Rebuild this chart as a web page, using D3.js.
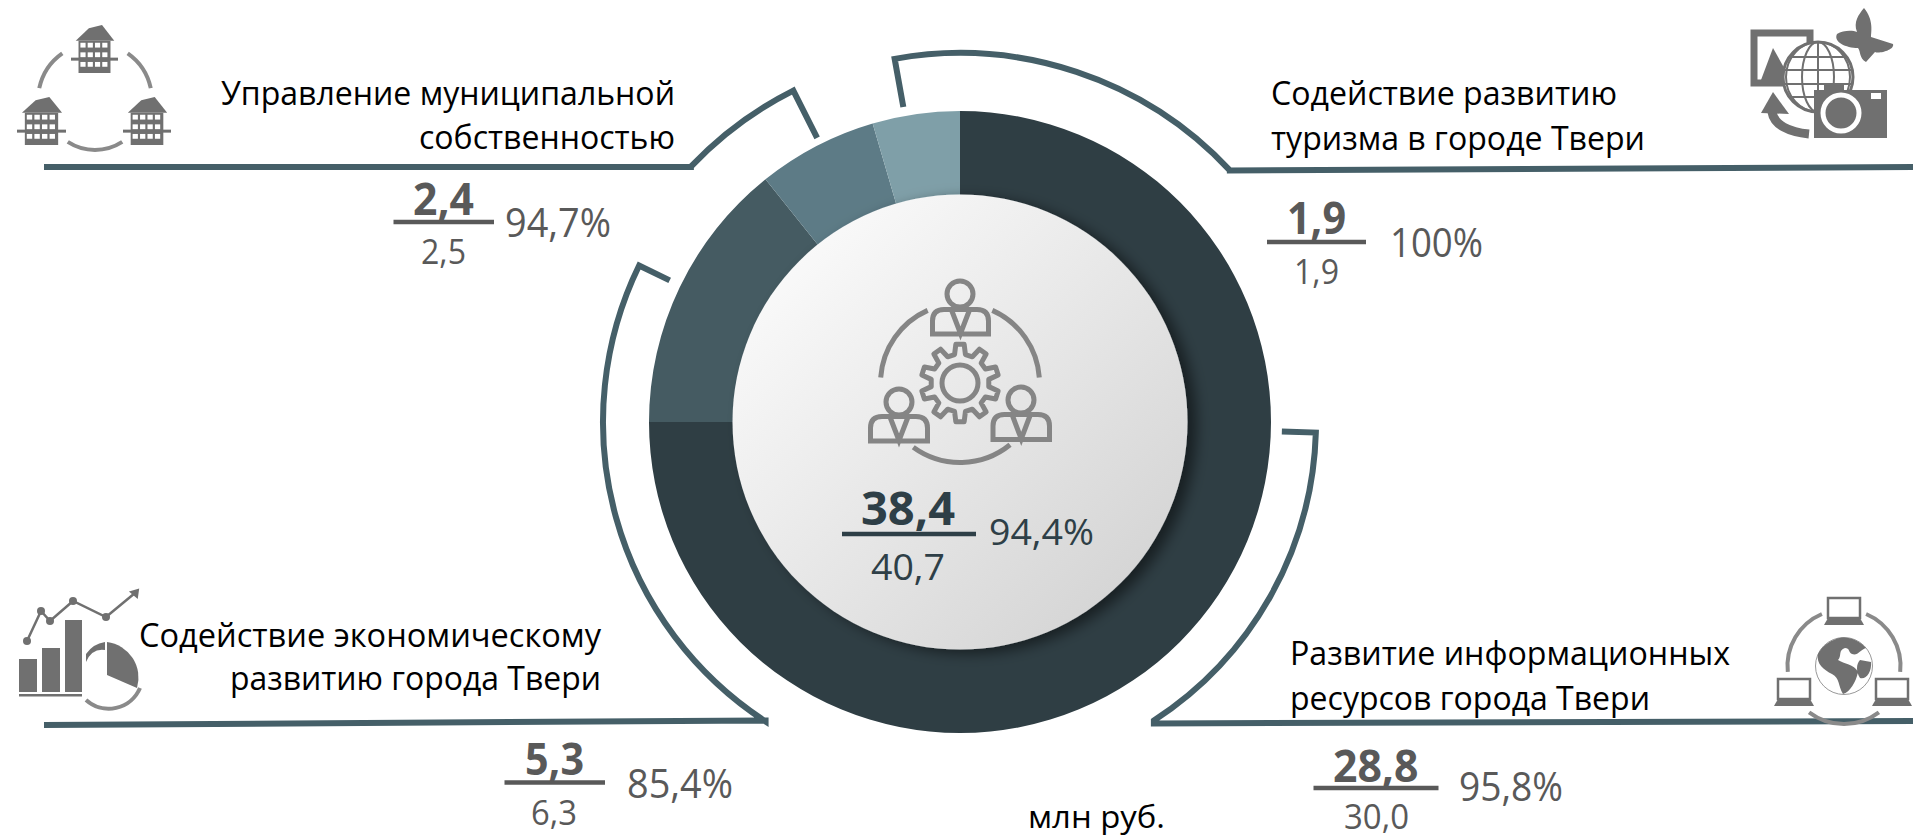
<!DOCTYPE html>
<html><head><meta charset="utf-8">
<script src="https://cdnjs.cloudflare.com/ajax/libs/d3/7.8.5/d3.min.js"></script>
<style>html,body{margin:0;padding:0;background:#fff;overflow:hidden}svg{display:block}text{font-family:"Open Sans",sans-serif}</style>
</head><body><svg id="c" width="1913" height="837"></svg>
<script>
const categories=["Развитие информационных ресурсов города Твери","Содействие экономическому развитию города Твери","Управление муниципальной собственностью","Содействие развитию туризма в городе Твери"];
const actual=[28.8,5.3,2.4,1.9];
const planned=[30.0,6.3,2.5,1.9];
const percents=["95,8%","85,4%","94,7%","100%"];
const sliceValues=[28.8,5.47,2.39,1.74]; // ring shares
const totalActual=38.4, totalPlanned=40.7, totalPercent="94,4%";
const unitLabel="млн руб.";
const sliceColors=["#2f3e44","#455b62","#5d7b86","#7f9fa8"];

const svg=d3.select("#c");
const cx=960,cy=422,R=311,r0=227.5;
const rad=d=>d*Math.PI/180, fmt=v=>v.toFixed(1).replace(".",",");
const defs=svg.append("defs");
const g=defs.append("linearGradient").attr("id","disc").attr("x1","10%").attr("y1","10%").attr("x2","85%").attr("y2","85%");
g.append("stop").attr("offset","0").attr("stop-color","#fbfbfb");
g.append("stop").attr("offset","1").attr("stop-color","#d6d6d6");
const f=defs.append("filter").attr("id","sh").attr("x","-20%").attr("y","-20%").attr("width","140%").attr("height","140%");
f.append("feDropShadow").attr("dx",9).attr("dy",4).attr("stdDeviation",7).attr("flood-color","#000").attr("flood-opacity",.5);
const ringClip=defs.append("clipPath").attr("id","ring");
ringClip.append("circle").attr("cx",cx).attr("cy",cy).attr("r",R);

// ring
const pie=d3.pie().sort(null).value(d=>d)(sliceValues);
const arcG=d3.arc().innerRadius(r0-5).outerRadius(R);
svg.append("g").attr("transform",`translate(${cx},${cy})`).selectAll("path").data(pie).join("path")
  .attr("d",arcG).attr("fill",(d,i)=>sliceColors[i]);
svg.append("g").attr("clip-path","url(#ring)").append("circle").attr("cx",cx).attr("cy",cy).attr("r",r0)
  .attr("fill","url(#disc)").attr("filter","url(#sh)");

// callouts: tick, arc around the ring, horizontal rule
const lineC="#455f68";
function callout(rTick,rArc,a0,a1,ccw,hx,hy0,hy1){
  const p=d3.path();
  const pt=(r,a)=>[cx+r*Math.sin(rad(a)),cy-r*Math.cos(rad(a))];
  const t=pt(rTick,a0), s=pt(rArc,a0), e=pt(rArc,a1);
  p.moveTo(t[0],t[1]); p.lineTo(s[0],s[1]);
  p.arc(cx,cy,rArc,rad(a0-90),rad(a1-90),ccw);
  p.lineTo(e[0],hy0); p.lineTo(hx,hy1);
  svg.append("path").attr("d",p.toString()).attr("fill","none").attr("stroke",lineC).attr("stroke-width",6).attr("stroke-linejoin","miter");
}
callout(320,369,-10.2,47,false,1913,170.5,167);
callout(318,371,-26.7,-46.5,true,44,167,167);
callout(323,357,-64,-147,true,44,720.5,725);
callout(322,356,91.7,147,false,1913,723.5,721);

// text helper
function T(s,x0,x1,base,size,fill,weight){
  svg.append("text").attr("x",x0).attr("y",base).attr("font-size",size).attr("fill",fill).attr("font-weight",weight||400)
    .attr("textLength",x1-x0).attr("lengthAdjust","spacingAndGlyphs").text(s);
}
function rule(x0,x1,y,c){svg.append("line").attr("x1",x0).attr("x2",x1).attr("y1",y).attr("y2",y).attr("stroke",c).attr("stroke-width",4.5);}

// labels
const split=[["Развитие информационных","ресурсов города Твери"],["Содействие экономическому","развитию города Твери"],["Управление муниципальной","собственностью"],["Содействие развитию","туризма в городе Твери"]];
const lbl=[
 [[1290,1730,665],[1290,1650,710]],
 [[139,601,646.5],[230,601,690]],
 [[221,675,105],[419,675,149]],
 [[1271,1617,105],[1271,1645,150]]];
split.forEach((parts,i)=>{
  parts.forEach((t,j)=>T(t,lbl[i][j][0],lbl[i][j][1],lbl[i][j][2],33.5,"#000"));
});
const gray="#595959";
const nums=[
 {a:[1333,1418.5,781.5],l:[1313.5,1438.5,788],p:[1344,1409,829],q:[1459,1563,801]},
 {a:[525,584,775],l:[504.5,605,782.5],p:[531,577,824.5],q:[627,733,797.5]},
 {a:[413,474,215],l:[393.5,494,222],p:[421,466,263.5],q:[505,611,236.5]},
 {a:[1287,1346,234],l:[1267,1366,242],p:[1294,1339,283.5],q:[1390,1483,256.5]}];
actual.forEach((v,i)=>{const n=nums[i];
  T(fmt(v),n.a[0],n.a[1],n.a[2],45,gray,700);
  rule(n.l[0],n.l[1],n.l[2],gray);
  T(fmt(planned[i]),n.p[0],n.p[1],n.p[2],34,gray);
  T(percents[i],n.q[0],n.q[1],n.q[2],40,gray);
});
const dark="#2e3f47";
T(fmt(totalActual),861,955,525,47,dark,700);
rule(842,976,534,dark);
T(fmt(totalPlanned),871,945,580,36,dark);
T(totalPercent,989,1094,545,36,dark);
T(unitLabel,1028,1165,828,31,"#000");

// ---- icons (decorative) ----
const ic="#858585", ig="#707070", ia="#8a8a8a";
const icon=svg.append("g");
function arcStroke(x,y,r,a0,a1,c,w){const p=d3.path();p.arc(x,y,r,rad(a0-90),rad(a1-90));icon.append("path").attr("d",p.toString()).attr("fill","none").attr("stroke",c).attr("stroke-width",w);}
function person(hx,hy,x0,x1,y0,y1){
  icon.append("circle").attr("cx",hx).attr("cy",hy).attr("r",13).attr("fill","none").attr("stroke",ic).attr("stroke-width",5);
  const m=(x0+x1)/2;
  icon.append("path").attr("d",`M${x0+2.5},${y1-2.5}V${y0+14}Q${x0+2.5},${y0+2.5} ${x0+14},${y0+2.5}H${x1-14}Q${x1-2.5},${y0+2.5} ${x1-2.5},${y0+14}V${y1-2.5}Z M${m-9},${y0+3}L${m},${y1-3}L${m+9},${y0+3}`)
    .attr("fill","none").attr("stroke",ic).attr("stroke-width",5);
}
person(960,294,930,991,307,336.5);
person(899,402,868,930,414,443.5);
person(1021,400,990.5,1052,412,442);
const gx=960,gy=383,teeth=10;let gp=[];
for(let i=0;i<teeth;i++){const a=i*2*Math.PI/teeth+rad(-90),st=2*Math.PI/teeth;
  [[-.30,29],[-.17,39],[.17,39],[.30,29]].forEach(o=>{const b=a+o[0]*st;gp.push([gx+o[1]*Math.cos(b),gy+o[1]*Math.sin(b)]);});}
icon.append("path").attr("d",d3.line()(gp)+"Z").attr("fill","none").attr("stroke",ic).attr("stroke-width",5).attr("stroke-linejoin","round");
icon.append("circle").attr("cx",gx).attr("cy",gy).attr("r",18).attr("fill","none").attr("stroke",ic).attr("stroke-width",5);
arcStroke(960,383,79.5,-86,-24,ic,5);arcStroke(960,383,79.5,24,86,ic,5);arcStroke(960,383,79.5,141,216,ic,5);

// houses
function house(x0,x1,y0,y1){const w=x1-x0,h=y1-y0;
  icon.append("path").attr("d",`M${x0+w*.1},${y0+h*.33}L${x0+w*.38},${y0+h*.07}L${x0+w*.66},${y0}L${x0+w*.92},${y0+h*.33}Z`).attr("fill",ig);
  icon.append("rect").attr("x",x0+w*.16).attr("y",y0+h*.33).attr("width",w*.68).attr("height",h*.67).attr("fill",ig);
  icon.append("rect").attr("x",x0).attr("y",y0+h*.68).attr("width",w).attr("height",3).attr("fill",ig);
  for(let r=0;r<3;r++)for(let c=0;c<4;c++)
    icon.append("rect").attr("x",x0+w*(.2+c*.155)).attr("y",y0+h*(.37+r*.2)).attr("width",w*.11).attr("height",h*.1).attr("fill","#fff");
}
house(71,118,25,73);house(17,66,97,145);house(123,171,97,145);
arcStroke(95,100,57,-78,-35,ia,4);arcStroke(95,100,57,35,78,ia,4);arcStroke(95,100,50,147,213,ia,4);

// tourism
const tour=icon.append("g").attr("transform","translate(-9,0)");
tour.append("rect").attr("x",1763).attr("y",33).attr("width",56).attr("height",50).attr("fill","#fff").attr("stroke",ig).attr("stroke-width",7);
tour.append("path").attr("d","M1770,80L1782,48L1800,80Z").attr("fill",ig);
tour.append("path").attr("d","M1873,8C1883,20 1880,32 1880,37L1902,44C1904,50 1888,54 1884,52L1875,62C1868,58 1870,52 1867,48C1855,48 1842,42 1846,34C1852,30 1862,30 1866,32C1862,22 1868,14 1873,8Z").attr("fill",ig);
tour.append("circle").attr("cx",1827).attr("cy",77).attr("r",35).attr("fill","#fff").attr("stroke",ig).attr("stroke-width",3);
[[16,35],[32,35]].forEach(d=>tour.append("ellipse").attr("cx",1827).attr("cy",77).attr("rx",d[0]).attr("ry",d[1]).attr("fill","none").attr("stroke",ig).attr("stroke-width",2));
[-20,-7,7,20].forEach(d=>tour.append("line").attr("x1",1827-Math.sqrt(35*35-d*d)).attr("x2",1827+Math.sqrt(35*35-d*d)).attr("y1",77+d).attr("y2",77+d).attr("stroke",ig).attr("stroke-width",2));
tour.append("line").attr("x1",1827).attr("x2",1827).attr("y1",42).attr("y2",112).attr("stroke",ig).attr("stroke-width",2);
tour.append("path").attr("d","M1823,90H1833V84H1853V90H1896V138H1823Z").attr("fill",ig);
tour.append("circle").attr("cx",1850).attr("cy",113).attr("r",18).attr("fill","none").attr("stroke","#fff").attr("stroke-width",5);
tour.append("rect").attr("x",1880).attr("y",93).attr("width",10).attr("height",6).attr("fill","#fff");
tour.append("path").attr("d","M1781,112C1783,125 1798,132 1818,134").attr("fill","none").attr("stroke",ig).attr("stroke-width",9);
tour.append("path").attr("d","M1770,113L1782,92L1798,114Z").attr("fill",ig);

// economy
[[19,37,659],[42,60,648],[65,82,620]].forEach(b=>icon.append("rect").attr("x",b[0]).attr("y",b[2]).attr("width",b[1]-b[0]).attr("height",692-b[2]).attr("fill",ig));
icon.append("rect").attr("x",19).attr("y",694).attr("width",63).attr("height",2.5).attr("fill",ig);
const ep=[[27,641],[41,611],[50,621],[73,601],[106,617],[135,593]];
icon.append("path").attr("d",d3.line()(ep)).attr("fill","none").attr("stroke",ig).attr("stroke-width",2.5);
ep.slice(0,5).forEach(q=>icon.append("circle").attr("cx",q[0]).attr("cy",q[1]).attr("r",4).attr("fill",ig));
icon.append("path").attr("d","M131,592L138,590L137,597Z").attr("fill",ig).attr("stroke",ig).attr("stroke-width",2);
icon.append("path").attr("d","M86,700A34,34 0 0 0 140,688").attr("fill","none").attr("stroke","#8a8a8a").attr("stroke-width",4);
icon.append("path").attr("d","M107,642A36,36 0 0 1 137,688L107,675Z").attr("fill",ig);
icon.append("path").attr("d","M86,654A28,28 0 0 1 105,642L105,650Q92,648 86,662Z").attr("fill",ig);

// network
function laptop(x0,y0){const w=40,h=28;
  icon.append("rect").attr("x",x0+4).attr("y",y0+1).attr("width",w-8).attr("height",h-8).attr("fill","#fff").attr("stroke",ig).attr("stroke-width",2.5);
  icon.append("path").attr("d",`M${x0+4},${y0+21}H${x0+w-4}L${x0+w},${y0+h}H${x0}Z`).attr("fill",ig);
}
laptop(1824,597);laptop(1774,678);laptop(1872,678);
arcStroke(1844,666,56.5,-96,-23,ia,4);arcStroke(1844,666,56.5,23,96,ia,4);arcStroke(1844,666,58,143,217,ia,4);
icon.append("ellipse").attr("cx",1844).attr("cy",666).attr("rx",28.5).attr("ry",28.5).attr("fill","#fff").attr("stroke","#999").attr("stroke-width",1);
icon.append("path").attr("d","M1836,639C1845,635 1858,639 1866,648C1860,650 1858,656 1852,654C1848,652 1850,648 1845,648C1838,650 1842,656 1838,660C1844,664 1854,664 1858,672C1856,682 1850,692 1843,694C1838,686 1840,678 1832,674C1824,670 1816,664 1818,654C1822,646 1830,641 1836,639Z M1860,660L1871,662C1872,672 1866,680 1860,678C1856,672 1856,664 1860,660Z").attr("fill",ig);
</script></body></html>
